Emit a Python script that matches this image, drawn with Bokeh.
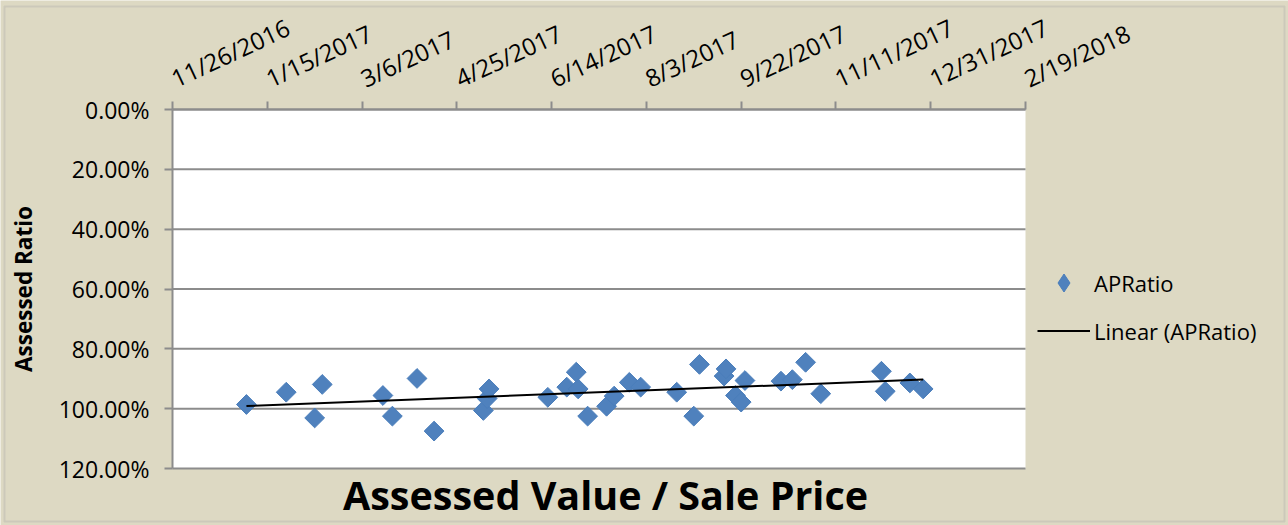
import numpy as np
import pandas as pd
from math import pi, radians
from bokeh.plotting import figure
from bokeh.models import (Range1d, FixedTicker, NumeralTickFormatter, CustomJSTickFormatter,
                          Legend, LegendItem, Label, BoxAnnotation)
from bokeh.embed import file_html
from bokeh.resources import INLINE

# ---------------- data ----------------
sale_dates = ["2017-01-04", "2017-01-25", "2017-02-09", "2017-02-13", "2017-03-17", "2017-03-22",
              "2017-04-04", "2017-04-13", "2017-05-09", "2017-05-11", "2017-05-12", "2017-06-12",
              "2017-06-22", "2017-06-27", "2017-06-28", "2017-07-03", "2017-07-13", "2017-07-17",
              "2017-07-25", "2017-07-31", "2017-08-19", "2017-08-28", "2017-08-31", "2017-09-13",
              "2017-09-14", "2017-09-19", "2017-09-22", "2017-09-24", "2017-10-13", "2017-10-19",
              "2017-10-26", "2017-11-03", "2017-12-05", "2017-12-07", "2017-12-20", "2017-12-27"]
ap_ratio = [0.986, 0.945, 1.031, 0.919, 0.956, 1.025,
            0.899, 1.075, 1.006, 0.966, 0.934, 0.962,
            0.928, 0.878, 0.934, 1.025, 0.992, 0.958,
            0.912, 0.928, 0.945, 1.025, 0.852, 0.891,
            0.867, 0.956, 0.978, 0.906, 0.908, 0.903,
            0.845, 0.950, 0.875, 0.942, 0.914, 0.934]

tick_dates = ["2016-11-26", "2017-01-15", "2017-03-06", "2017-04-25", "2017-06-14",
              "2017-08-03", "2017-09-22", "2017-11-11", "2017-12-31", "2018-02-19"]
tick_labels = ["11/26/2016", "1/15/2017", "3/6/2017", "4/25/2017", "6/14/2017",
               "8/3/2017", "9/22/2017", "11/11/2017", "12/31/2017", "2/19/2018"]
y_ticks = [0.0, 0.2, 0.4, 0.6, 0.8, 1.0, 1.2]

FONT = "Open Sans"
BG = "#DDD9C3"
GRAY = "#8C8C8C"
BLUE = "#4F81BD"
BLUE_EDGE = "#4A7EBB"
W, H = 1288, 525
# pixel box of the white plot area inside the canvas
PX_L, PX_R, PX_T, PX_B = 172, 1025, 109, 468

x = pd.to_datetime(sale_dates)
tick_ms = [float(pd.Timestamp(d).value // 10**6) for d in tick_dates]
y_lo, y_hi = y_ticks[0], y_ticks[-1]

# linear trend (least squares on day number)
days = (x - x[0]).days.values.astype(float)
slope, intercept = np.polyfit(days, np.array(ap_ratio), 1)
trend_x = [x[0], x[-1]]
trend_y = [intercept, intercept + slope * days[-1]]

# the frame covers the whole canvas; ranges are extended so the plot box lands on PX_*
mpp = (tick_ms[-1] - tick_ms[0]) / (PX_R - PX_L)
upp = (y_hi - y_lo) / (PX_B - PX_T)
x_start, x_end = tick_ms[0] - PX_L * mpp, tick_ms[-1] + (W - PX_R) * mpp
y_top, y_bottom = y_lo - PX_T * upp, y_hi + (H - PX_B) * upp

p = figure(width=W, height=H, x_axis_type="datetime", x_axis_location="above",
           x_range=Range1d(start=x_start, end=x_end),
           y_range=Range1d(start=y_bottom, end=y_top),
           output_backend="svg", toolbar_location=None,
           min_border_left=0, min_border_right=0, min_border_top=0, min_border_bottom=0)
p.title.visible = False

p.background_fill_color = BG
p.border_fill_color = BG
p.outline_line_color = None
p.xgrid.visible = False
p.ygrid.visible = False

# outer chart border
p.add_layout(BoxAnnotation(left=x_start + 4 * mpp, right=x_start + (W - 4) * mpp,
                           top=y_top + 6 * upp, bottom=y_top + (H - 4) * upp,
                           fill_alpha=0, line_color="#A6A6A6", line_width=2, level="underlay"))
# white plot area
p.add_layout(BoxAnnotation(left=tick_ms[0], right=tick_ms[-1], top=y_lo, bottom=y_hi,
                           fill_color="white", fill_alpha=1.0, line_color=None, level="underlay"))
# horizontal grid lines at the y ticks
p.segment(x0=tick_ms[0], x1=tick_ms[-1], y0=y_ticks, y1=y_ticks, line_color=GRAY, line_width=2)

r_pts = p.scatter(x, ap_ratio, marker="square", angle=pi / 4, size=14,
                  fill_color=BLUE, line_color=BLUE_EDGE, line_width=1)
r_line = p.line(trend_x, trend_y, line_color="black", line_width=2)
# hidden diamond renderer of the same series, used only for the legend symbol
r_leg = p.scatter(x, ap_ratio, marker="diamond", fill_color=BLUE, line_color=BLUE_EDGE,
                  visible=False)

# x axis (top, pinned to y = 0)
xa = p.xaxis[0]
xa.fixed_location = y_lo
xa.ticker = FixedTicker(ticks=tick_ms)
xa.bounds = (tick_ms[0], tick_ms[-1])
xa.formatter = CustomJSTickFormatter(args=dict(tvals=tick_ms, tlabels=tick_labels), code="""
let best = 0;
for (let i = 0; i < tvals.length; i++) {
  if (Math.abs(tvals[i] - tick) < Math.abs(tvals[best] - tick)) best = i;
}
return tlabels[best];
""")
xa.major_label_orientation = radians(25)
xa.major_label_standoff = 22
xa.major_label_text_font = FONT
xa.major_label_text_font_size = "24px"
xa.major_label_text_color = "black"
xa.axis_line_color = GRAY
xa.axis_line_width = 2
xa.major_tick_line_color = GRAY
xa.major_tick_line_width = 2
xa.major_tick_out = 8
xa.major_tick_in = 0
xa.minor_tick_line_color = None

# y axis (left, pinned to the first date)
ya = p.yaxis[0]
ya.fixed_location = tick_ms[0]
ya.ticker = FixedTicker(ticks=y_ticks)
ya.bounds = (y_lo, y_hi)
ya.formatter = NumeralTickFormatter(format="0.00%")
ya.major_label_text_font = FONT
ya.major_label_text_font_size = "23px"
ya.major_label_text_color = "black"
ya.major_label_standoff = 15
ya.axis_line_color = GRAY
ya.axis_line_width = 2
ya.major_tick_line_color = GRAY
ya.major_tick_line_width = 2
ya.major_tick_out = 8
ya.major_tick_in = 0
ya.minor_tick_line_color = None
ya.axis_label = "Assessed Ratio"
ya.axis_label_text_font = FONT
ya.axis_label_text_font_size = "22.5px"
ya.axis_label_text_font_style = "bold"
ya.axis_label_text_color = "black"
ya.axis_label_standoff = 17

legend = Legend(items=[LegendItem(label="APRatio", renderers=[r_leg]),
                       LegendItem(label="Linear (APRatio)", renderers=[r_line])],
                location=(1037, H - 353), orientation="vertical",
                background_fill_alpha=0, border_line_alpha=0, padding=0, margin=0,
                glyph_width=53, glyph_height=45, label_height=45, spacing=3,
                label_standoff=4, label_text_font=FONT, label_text_font_size="22px",
                label_text_color="black", label_text_baseline="middle",
                inactive_fill_alpha=0)
p.add_layout(legend, "center")

p.add_layout(Label(x=605, y=H - 494.5, x_units="screen", y_units="screen",
                   text="Assessed Value / Sale Price", text_align="center",
                   text_baseline="middle", text_font=FONT, text_font_size="39.5px",
                   text_font_style="bold", text_color="black"))

open("out.html", "w").write(file_html(p, INLINE))
